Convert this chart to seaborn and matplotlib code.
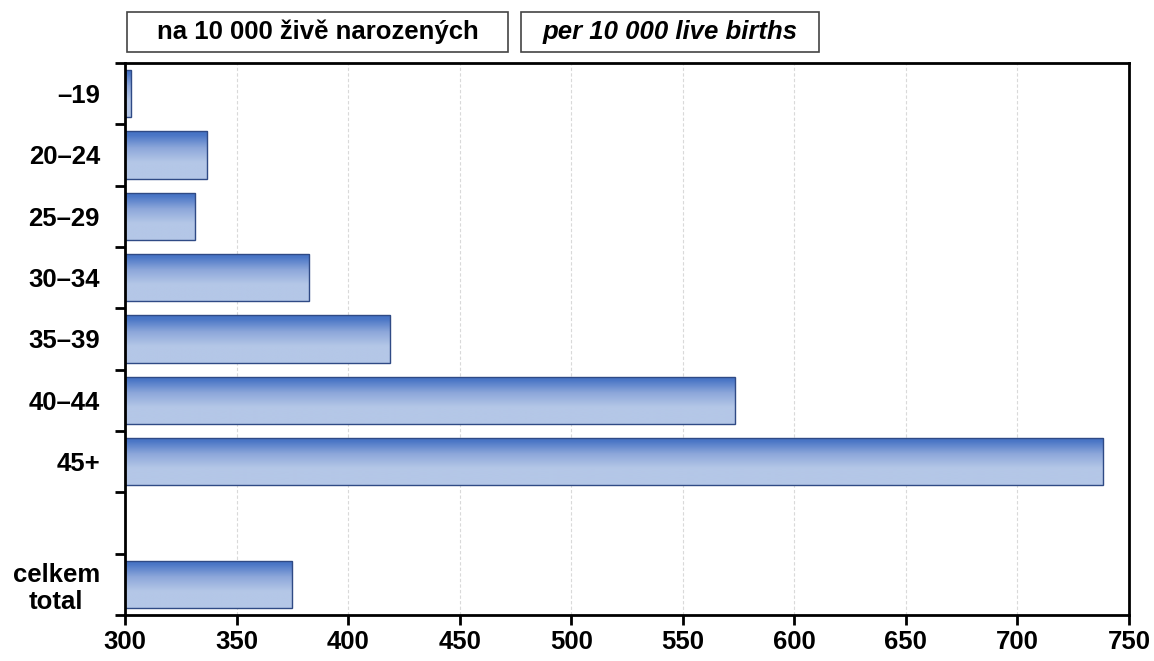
import numpy as np
import pandas as pd
import seaborn as sns
import matplotlib.pyplot as plt
from matplotlib.colors import LinearSegmentedColormap
from matplotlib.patches import Rectangle

# vek matky / mother's age
age_groups = ["–19", "20–24", "25–29", "30–34", "35–39", "40–44", "45+", " ", "celkem\ntotal"]
rates = [302.7, 336.8, 331.4, 382.6, 418.9, 573.4, 738.4, None, 374.9]
x_ticks = [300, 350, 400, 450, 500, 550, 600, 650, 700, 750]

df = pd.DataFrame({"group": age_groups, "rate": rates}).dropna()

sns.set_theme(style="white")
plt.rcParams['font.family'] = ['Liberation Sans', 'DejaVu Sans']
plt.rcParams['font.weight'] = 'bold'
plt.rcParams['text.color'] = 'black'
plt.rcParams['xtick.color'] = 'black'
plt.rcParams['ytick.color'] = 'black'
plt.rcParams['xtick.labelcolor'] = 'black'
plt.rcParams['ytick.labelcolor'] = 'black'

fig = plt.figure(figsize=(11.54, 6.61), dpi=100)
ax = fig.add_axes([0.1083, 0.0696, 0.870, 0.8351])

sns.barplot(data=df, x="rate", y="group", order=age_groups, orient="h",
            color="#4472C4", width=0.77, edgecolor="#2F4A85", linewidth=1.0,
            ax=ax)

xmin, xmax = 300, 750

# gradient fill: dark blue at the top of each bar, light at the bottom
grad_cmap = LinearSegmentedColormap.from_list(
    "bar", [(0, "#4472C4"), (0.08, "#4A76C6"), (0.35, "#8DA7DA"), (0.65, "#B4C7E7"),
            (1, "#B4C7E7")])
grad = np.linspace(0, 1, 200).reshape(-1, 1)
for p in ax.patches:
    w = p.get_width()
    if not np.isfinite(w) or w == 0:
        continue
    x0, y0, h = p.get_x(), p.get_y(), p.get_height()
    p.set_facecolor("none")
    im = ax.imshow(grad, cmap=grad_cmap, aspect="auto", origin="upper",
                   extent=(max(x0, xmin), x0 + w, y0 + h, y0),
                   zorder=p.get_zorder() - 0.1, interpolation="bilinear")
    im.set_clip_path(p)

ax.set_xlim(xmin, xmax)
ax.set_ylim(len(age_groups) - 0.5, -0.5)

ax.set_xlabel("")
ax.set_ylabel("")
ax.set_xticks(x_ticks)
ax.set_xticklabels([str(t) for t in x_ticks], fontsize=18.5, fontweight="bold",
                   color="black")

ax.set_yticks(np.arange(-0.5, len(age_groups), 1))
ax.set_yticklabels([])
ax.set_yticks(range(len(age_groups)), minor=True)
ax.set_yticklabels(age_groups, minor=True, fontsize=18.5, fontweight="bold",
                   ha="right", multialignment="center", linespacing=1.15,
                   color="black")

ax.tick_params(axis="y", which="major", length=7, width=2, direction="out", left=True)
ax.tick_params(axis="y", which="minor", length=0, pad=18)
ax.tick_params(axis="x", which="major", length=7, width=2, direction="out",
               bottom=True, pad=4)

ax.grid(axis="x", color="#d9d9d9", linestyle=(0, (3, 2)), linewidth=0.8)
ax.set_axisbelow(True)

for s in ax.spines.values():
    s.set_visible(True)
    s.set_color("black")
    s.set_linewidth(2)

# heading boxes
for bx, bw in [(0.1101, 0.3302), (0.4515, 0.2582)]:
    fig.patches.append(Rectangle((bx, 0.9213), bw, 0.0605, transform=fig.transFigure,
                                 facecolor="white", edgecolor="#444444", linewidth=1.2))
fig.text(0.1101 + 0.3302 / 2, 0.9516, "na 10 000 živě narozených", fontsize=18.5,
         fontweight="bold", ha="center", va="center", color="black")
fig.text(0.4515 + 0.2582 / 2, 0.9516, "per 10 000 live births", fontsize=18.5,
         fontweight="bold", style="italic", ha="center", va="center", color="black")

fig.savefig("out.png", dpi=100)
